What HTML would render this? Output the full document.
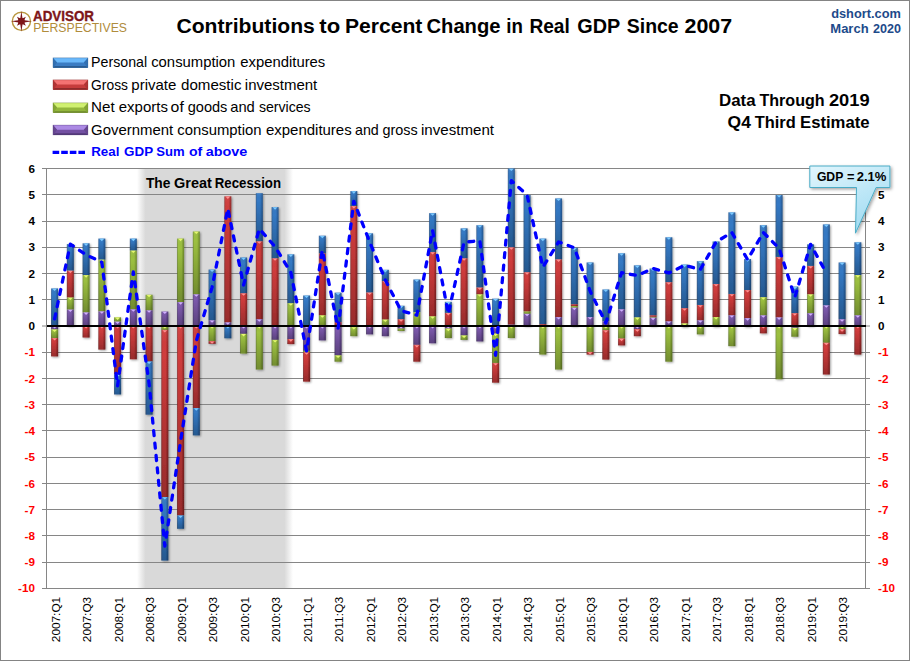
<!DOCTYPE html>
<html><head><meta charset="utf-8"><title>Contributions to Percent Change in Real GDP Since 2007</title>
<style>html,body{margin:0;padding:0;background:#fff;}body{width:910px;height:661px;overflow:hidden;font-family:"Liberation Sans",sans-serif;}svg{display:block;}</style></head><body>
<svg width="910" height="661" viewBox="0 0 910 661" font-family="Liberation Sans, sans-serif">
<defs>
<linearGradient id="gB" x1="0" x2="1" y1="0" y2="0"><stop offset="0" stop-color="#22528a" stop-opacity="0.85"/><stop offset="0.2" stop-color="#3479c4"/><stop offset="0.62" stop-color="#3479c4"/><stop offset="1" stop-color="#22528a"/></linearGradient>
<linearGradient id="lB" x1="0" x2="0" y1="0" y2="1"><stop offset="0" stop-color="#3479c4"/><stop offset="0.35" stop-color="#7ccbff"/><stop offset="0.5" stop-color="#3479c4"/><stop offset="1" stop-color="#22528a"/></linearGradient>
<linearGradient id="gR" x1="0" x2="1" y1="0" y2="0"><stop offset="0" stop-color="#8a2424" stop-opacity="0.85"/><stop offset="0.2" stop-color="#d03c3c"/><stop offset="0.62" stop-color="#d03c3c"/><stop offset="1" stop-color="#8a2424"/></linearGradient>
<linearGradient id="lR" x1="0" x2="0" y1="0" y2="1"><stop offset="0" stop-color="#d03c3c"/><stop offset="0.35" stop-color="#ff9090"/><stop offset="0.5" stop-color="#d03c3c"/><stop offset="1" stop-color="#8a2424"/></linearGradient>
<linearGradient id="gG" x1="0" x2="1" y1="0" y2="0"><stop offset="0" stop-color="#6a862a" stop-opacity="0.85"/><stop offset="0.2" stop-color="#9cc040"/><stop offset="0.62" stop-color="#9cc040"/><stop offset="1" stop-color="#6a862a"/></linearGradient>
<linearGradient id="lG" x1="0" x2="0" y1="0" y2="1"><stop offset="0" stop-color="#9cc040"/><stop offset="0.35" stop-color="#e6f870"/><stop offset="0.5" stop-color="#9cc040"/><stop offset="1" stop-color="#6a862a"/></linearGradient>
<linearGradient id="gP" x1="0" x2="1" y1="0" y2="0"><stop offset="0" stop-color="#4f3874" stop-opacity="0.85"/><stop offset="0.2" stop-color="#7c59ac"/><stop offset="0.62" stop-color="#7c59ac"/><stop offset="1" stop-color="#4f3874"/></linearGradient>
<linearGradient id="lP" x1="0" x2="0" y1="0" y2="1"><stop offset="0" stop-color="#7c59ac"/><stop offset="0.35" stop-color="#d0b0ff"/><stop offset="0.5" stop-color="#7c59ac"/><stop offset="1" stop-color="#4f3874"/></linearGradient>
<linearGradient id="vs" x1="0" x2="0" y1="0" y2="1"><stop offset="0" stop-color="#fff" stop-opacity="0.06"/><stop offset="0.15" stop-color="#000" stop-opacity="0"/><stop offset="1" stop-color="#000" stop-opacity="0.27"/></linearGradient>
<linearGradient id="rec" x1="0" x2="1" y1="0" y2="0"><stop offset="0" stop-color="#d9d9d9" stop-opacity="0"/><stop offset="0.055" stop-color="#d9d9d9" stop-opacity="1"/><stop offset="0.945" stop-color="#d9d9d9" stop-opacity="1"/><stop offset="1" stop-color="#d9d9d9" stop-opacity="0"/></linearGradient>
<linearGradient id="co" x1="0" x2="0.6" y1="0" y2="1"><stop offset="0" stop-color="#e2f6fd"/><stop offset="1" stop-color="#a2dcf2"/></linearGradient>
<filter id="sh" x="-5%" y="-5%" width="110%" height="110%"><feDropShadow dx="1" dy="1" stdDeviation="0.9" flood-color="#000" flood-opacity="0.38"/></filter>
<filter id="sh2" x="-20%" y="-20%" width="140%" height="140%"><feDropShadow dx="1.5" dy="1.5" stdDeviation="1.5" flood-color="#000" flood-opacity="0.35"/></filter>
</defs>
<rect x="0" y="0" width="910" height="661" fill="#fff"/>
<rect x="0.5" y="0.5" width="909" height="660" fill="none" stroke="#848484" stroke-width="1"/>
<rect x="137" y="168" width="156" height="421" fill="url(#rec)"/>
<line x1="42" x2="870" y1="168.50" y2="168.50" stroke="#868686" stroke-width="1"/>
<line x1="42" x2="870" y1="194.50" y2="194.50" stroke="#868686" stroke-width="1"/>
<line x1="42" x2="870" y1="221.50" y2="221.50" stroke="#868686" stroke-width="1"/>
<line x1="42" x2="870" y1="247.50" y2="247.50" stroke="#868686" stroke-width="1"/>
<line x1="42" x2="870" y1="273.50" y2="273.50" stroke="#868686" stroke-width="1"/>
<line x1="42" x2="870" y1="299.50" y2="299.50" stroke="#868686" stroke-width="1"/>
<line x1="42" x2="870" y1="326.00" y2="326.00" stroke="#868686" stroke-width="1"/>
<line x1="42" x2="870" y1="352.50" y2="352.50" stroke="#868686" stroke-width="1"/>
<line x1="42" x2="870" y1="378.50" y2="378.50" stroke="#868686" stroke-width="1"/>
<line x1="42" x2="870" y1="404.50" y2="404.50" stroke="#868686" stroke-width="1"/>
<line x1="42" x2="870" y1="430.50" y2="430.50" stroke="#868686" stroke-width="1"/>
<line x1="42" x2="870" y1="457.50" y2="457.50" stroke="#868686" stroke-width="1"/>
<line x1="42" x2="870" y1="483.50" y2="483.50" stroke="#868686" stroke-width="1"/>
<line x1="42" x2="870" y1="509.50" y2="509.50" stroke="#868686" stroke-width="1"/>
<line x1="42" x2="870" y1="535.50" y2="535.50" stroke="#868686" stroke-width="1"/>
<line x1="42" x2="870" y1="562.50" y2="562.50" stroke="#868686" stroke-width="1"/>
<line x1="42" x2="870" y1="588.50" y2="588.50" stroke="#868686" stroke-width="1"/>
<line x1="46.5" x2="46.5" y1="168" y2="589" stroke="#868686" stroke-width="1"/>
<line x1="865.5" x2="865.5" y1="168" y2="589" stroke="#868686" stroke-width="1"/>
<g filter="url(#sh)">
<rect x="51.08" y="288.42" width="7.0" height="37.52" fill="url(#gB)"/>
<rect x="51.08" y="288.42" width="7.0" height="37.52" fill="url(#vs)"/>
<rect x="51.08" y="325.94" width="7.0" height="3.41" fill="url(#gP)"/>
<rect x="51.08" y="325.94" width="7.0" height="3.41" fill="url(#vs)"/>
<rect x="51.08" y="329.35" width="7.0" height="8.66" fill="url(#gG)"/>
<rect x="51.08" y="329.35" width="7.0" height="8.66" fill="url(#vs)"/>
<rect x="51.08" y="338.01" width="7.0" height="18.37" fill="url(#gR)"/>
<rect x="51.08" y="338.01" width="7.0" height="18.37" fill="url(#vs)"/>
<rect x="66.83" y="309.41" width="7.0" height="16.53" fill="url(#gP)"/>
<rect x="66.83" y="309.41" width="7.0" height="16.53" fill="url(#vs)"/>
<rect x="66.83" y="297.34" width="7.0" height="12.07" fill="url(#gG)"/>
<rect x="66.83" y="297.34" width="7.0" height="12.07" fill="url(#vs)"/>
<rect x="66.83" y="270.57" width="7.0" height="26.76" fill="url(#gR)"/>
<rect x="66.83" y="270.57" width="7.0" height="26.76" fill="url(#vs)"/>
<rect x="66.83" y="244.07" width="7.0" height="26.50" fill="url(#gB)"/>
<rect x="66.83" y="244.07" width="7.0" height="26.50" fill="url(#vs)"/>
<rect x="82.58" y="312.30" width="7.0" height="13.64" fill="url(#gP)"/>
<rect x="82.58" y="312.30" width="7.0" height="13.64" fill="url(#vs)"/>
<rect x="82.58" y="275.03" width="7.0" height="37.26" fill="url(#gG)"/>
<rect x="82.58" y="275.03" width="7.0" height="37.26" fill="url(#vs)"/>
<rect x="82.58" y="243.28" width="7.0" height="31.75" fill="url(#gB)"/>
<rect x="82.58" y="243.28" width="7.0" height="31.75" fill="url(#vs)"/>
<rect x="82.58" y="325.94" width="7.0" height="11.55" fill="url(#gR)"/>
<rect x="82.58" y="325.94" width="7.0" height="11.55" fill="url(#vs)"/>
<rect x="98.33" y="311.25" width="7.0" height="14.69" fill="url(#gP)"/>
<rect x="98.33" y="311.25" width="7.0" height="14.69" fill="url(#vs)"/>
<rect x="98.33" y="259.55" width="7.0" height="51.69" fill="url(#gG)"/>
<rect x="98.33" y="259.55" width="7.0" height="51.69" fill="url(#vs)"/>
<rect x="98.33" y="238.56" width="7.0" height="20.99" fill="url(#gB)"/>
<rect x="98.33" y="238.56" width="7.0" height="20.99" fill="url(#vs)"/>
<rect x="98.33" y="325.94" width="7.0" height="23.62" fill="url(#gR)"/>
<rect x="98.33" y="325.94" width="7.0" height="23.62" fill="url(#vs)"/>
<rect x="114.08" y="321.48" width="7.0" height="4.46" fill="url(#gP)"/>
<rect x="114.08" y="321.48" width="7.0" height="4.46" fill="url(#vs)"/>
<rect x="114.08" y="317.28" width="7.0" height="4.20" fill="url(#gG)"/>
<rect x="114.08" y="317.28" width="7.0" height="4.20" fill="url(#vs)"/>
<rect x="114.08" y="325.94" width="7.0" height="48.54" fill="url(#gR)"/>
<rect x="114.08" y="325.94" width="7.0" height="48.54" fill="url(#vs)"/>
<rect x="114.08" y="374.48" width="7.0" height="19.94" fill="url(#gB)"/>
<rect x="114.08" y="374.48" width="7.0" height="19.94" fill="url(#vs)"/>
<rect x="129.82" y="309.15" width="7.0" height="16.79" fill="url(#gP)"/>
<rect x="129.82" y="309.15" width="7.0" height="16.79" fill="url(#vs)"/>
<rect x="129.82" y="250.37" width="7.0" height="58.78" fill="url(#gG)"/>
<rect x="129.82" y="250.37" width="7.0" height="58.78" fill="url(#vs)"/>
<rect x="129.82" y="238.56" width="7.0" height="11.81" fill="url(#gB)"/>
<rect x="129.82" y="238.56" width="7.0" height="11.81" fill="url(#vs)"/>
<rect x="129.82" y="325.94" width="7.0" height="33.32" fill="url(#gR)"/>
<rect x="129.82" y="325.94" width="7.0" height="33.32" fill="url(#vs)"/>
<rect x="145.57" y="310.20" width="7.0" height="15.74" fill="url(#gP)"/>
<rect x="145.57" y="310.20" width="7.0" height="15.74" fill="url(#vs)"/>
<rect x="145.57" y="294.71" width="7.0" height="15.48" fill="url(#gG)"/>
<rect x="145.57" y="294.71" width="7.0" height="15.48" fill="url(#vs)"/>
<rect x="145.57" y="325.94" width="7.0" height="35.42" fill="url(#gR)"/>
<rect x="145.57" y="325.94" width="7.0" height="35.42" fill="url(#vs)"/>
<rect x="145.57" y="361.36" width="7.0" height="53.27" fill="url(#gB)"/>
<rect x="145.57" y="361.36" width="7.0" height="53.27" fill="url(#vs)"/>
<rect x="161.32" y="311.51" width="7.0" height="14.43" fill="url(#gP)"/>
<rect x="161.32" y="311.51" width="7.0" height="14.43" fill="url(#vs)"/>
<rect x="161.32" y="325.94" width="7.0" height="3.94" fill="url(#gG)"/>
<rect x="161.32" y="325.94" width="7.0" height="3.94" fill="url(#vs)"/>
<rect x="161.32" y="329.88" width="7.0" height="167.15" fill="url(#gR)"/>
<rect x="161.32" y="329.88" width="7.0" height="167.15" fill="url(#vs)"/>
<rect x="161.32" y="497.02" width="7.0" height="63.50" fill="url(#gB)"/>
<rect x="161.32" y="497.02" width="7.0" height="63.50" fill="url(#vs)"/>
<rect x="177.07" y="302.06" width="7.0" height="23.88" fill="url(#gP)"/>
<rect x="177.07" y="302.06" width="7.0" height="23.88" fill="url(#vs)"/>
<rect x="177.07" y="238.56" width="7.0" height="63.50" fill="url(#gG)"/>
<rect x="177.07" y="238.56" width="7.0" height="63.50" fill="url(#vs)"/>
<rect x="177.07" y="325.94" width="7.0" height="189.45" fill="url(#gR)"/>
<rect x="177.07" y="325.94" width="7.0" height="189.45" fill="url(#vs)"/>
<rect x="177.07" y="515.39" width="7.0" height="13.38" fill="url(#gB)"/>
<rect x="177.07" y="515.39" width="7.0" height="13.38" fill="url(#vs)"/>
<rect x="192.82" y="294.19" width="7.0" height="31.75" fill="url(#gP)"/>
<rect x="192.82" y="294.19" width="7.0" height="31.75" fill="url(#vs)"/>
<rect x="192.82" y="231.48" width="7.0" height="62.71" fill="url(#gG)"/>
<rect x="192.82" y="231.48" width="7.0" height="62.71" fill="url(#vs)"/>
<rect x="192.82" y="325.94" width="7.0" height="82.13" fill="url(#gR)"/>
<rect x="192.82" y="325.94" width="7.0" height="82.13" fill="url(#vs)"/>
<rect x="192.82" y="408.07" width="7.0" height="27.29" fill="url(#gB)"/>
<rect x="192.82" y="408.07" width="7.0" height="27.29" fill="url(#vs)"/>
<rect x="208.57" y="320.17" width="7.0" height="5.77" fill="url(#gP)"/>
<rect x="208.57" y="320.17" width="7.0" height="5.77" fill="url(#vs)"/>
<rect x="208.57" y="269.52" width="7.0" height="50.64" fill="url(#gB)"/>
<rect x="208.57" y="269.52" width="7.0" height="50.64" fill="url(#vs)"/>
<rect x="208.57" y="325.94" width="7.0" height="15.22" fill="url(#gG)"/>
<rect x="208.57" y="325.94" width="7.0" height="15.22" fill="url(#vs)"/>
<rect x="208.57" y="341.16" width="7.0" height="2.62" fill="url(#gR)"/>
<rect x="208.57" y="341.16" width="7.0" height="2.62" fill="url(#vs)"/>
<rect x="224.32" y="322.27" width="7.0" height="3.67" fill="url(#gP)"/>
<rect x="224.32" y="322.27" width="7.0" height="3.67" fill="url(#vs)"/>
<rect x="224.32" y="196.31" width="7.0" height="125.95" fill="url(#gR)"/>
<rect x="224.32" y="196.31" width="7.0" height="125.95" fill="url(#vs)"/>
<rect x="224.32" y="325.94" width="7.0" height="12.33" fill="url(#gB)"/>
<rect x="224.32" y="325.94" width="7.0" height="12.33" fill="url(#vs)"/>
<rect x="240.07" y="293.14" width="7.0" height="32.80" fill="url(#gR)"/>
<rect x="240.07" y="293.14" width="7.0" height="32.80" fill="url(#vs)"/>
<rect x="240.07" y="257.45" width="7.0" height="35.69" fill="url(#gB)"/>
<rect x="240.07" y="257.45" width="7.0" height="35.69" fill="url(#vs)"/>
<rect x="240.07" y="325.94" width="7.0" height="7.87" fill="url(#gP)"/>
<rect x="240.07" y="325.94" width="7.0" height="7.87" fill="url(#vs)"/>
<rect x="240.07" y="333.81" width="7.0" height="19.68" fill="url(#gG)"/>
<rect x="240.07" y="333.81" width="7.0" height="19.68" fill="url(#vs)"/>
<rect x="255.82" y="319.12" width="7.0" height="6.82" fill="url(#gP)"/>
<rect x="255.82" y="319.12" width="7.0" height="6.82" fill="url(#vs)"/>
<rect x="255.82" y="241.18" width="7.0" height="77.93" fill="url(#gR)"/>
<rect x="255.82" y="241.18" width="7.0" height="77.93" fill="url(#vs)"/>
<rect x="255.82" y="193.17" width="7.0" height="48.02" fill="url(#gB)"/>
<rect x="255.82" y="193.17" width="7.0" height="48.02" fill="url(#vs)"/>
<rect x="255.82" y="325.94" width="7.0" height="43.56" fill="url(#gG)"/>
<rect x="255.82" y="325.94" width="7.0" height="43.56" fill="url(#vs)"/>
<rect x="271.57" y="258.24" width="7.0" height="67.70" fill="url(#gR)"/>
<rect x="271.57" y="258.24" width="7.0" height="67.70" fill="url(#vs)"/>
<rect x="271.57" y="207.07" width="7.0" height="51.17" fill="url(#gB)"/>
<rect x="271.57" y="207.07" width="7.0" height="51.17" fill="url(#vs)"/>
<rect x="271.57" y="325.94" width="7.0" height="13.91" fill="url(#gP)"/>
<rect x="271.57" y="325.94" width="7.0" height="13.91" fill="url(#vs)"/>
<rect x="271.57" y="339.85" width="7.0" height="25.72" fill="url(#gG)"/>
<rect x="271.57" y="339.85" width="7.0" height="25.72" fill="url(#vs)"/>
<rect x="287.32" y="303.11" width="7.0" height="22.83" fill="url(#gG)"/>
<rect x="287.32" y="303.11" width="7.0" height="22.83" fill="url(#vs)"/>
<rect x="287.32" y="254.30" width="7.0" height="48.81" fill="url(#gB)"/>
<rect x="287.32" y="254.30" width="7.0" height="48.81" fill="url(#vs)"/>
<rect x="287.32" y="325.94" width="7.0" height="13.12" fill="url(#gP)"/>
<rect x="287.32" y="325.94" width="7.0" height="13.12" fill="url(#vs)"/>
<rect x="287.32" y="339.06" width="7.0" height="4.99" fill="url(#gR)"/>
<rect x="287.32" y="339.06" width="7.0" height="4.99" fill="url(#vs)"/>
<rect x="303.07" y="295.50" width="7.0" height="30.44" fill="url(#gB)"/>
<rect x="303.07" y="295.50" width="7.0" height="30.44" fill="url(#vs)"/>
<rect x="303.07" y="325.94" width="7.0" height="24.93" fill="url(#gP)"/>
<rect x="303.07" y="325.94" width="7.0" height="24.93" fill="url(#vs)"/>
<rect x="303.07" y="350.87" width="7.0" height="1.31" fill="url(#gG)"/>
<rect x="303.07" y="350.87" width="7.0" height="1.31" fill="url(#vs)"/>
<rect x="303.07" y="352.18" width="7.0" height="29.39" fill="url(#gR)"/>
<rect x="303.07" y="352.18" width="7.0" height="29.39" fill="url(#vs)"/>
<rect x="318.82" y="315.18" width="7.0" height="10.76" fill="url(#gG)"/>
<rect x="318.82" y="315.18" width="7.0" height="10.76" fill="url(#vs)"/>
<rect x="318.82" y="253.26" width="7.0" height="61.93" fill="url(#gR)"/>
<rect x="318.82" y="253.26" width="7.0" height="61.93" fill="url(#vs)"/>
<rect x="318.82" y="235.67" width="7.0" height="17.58" fill="url(#gB)"/>
<rect x="318.82" y="235.67" width="7.0" height="17.58" fill="url(#vs)"/>
<rect x="318.82" y="325.94" width="7.0" height="14.43" fill="url(#gP)"/>
<rect x="318.82" y="325.94" width="7.0" height="14.43" fill="url(#vs)"/>
<rect x="334.57" y="322.00" width="7.0" height="3.94" fill="url(#gR)"/>
<rect x="334.57" y="322.00" width="7.0" height="3.94" fill="url(#vs)"/>
<rect x="334.57" y="292.62" width="7.0" height="29.39" fill="url(#gB)"/>
<rect x="334.57" y="292.62" width="7.0" height="29.39" fill="url(#vs)"/>
<rect x="334.57" y="325.94" width="7.0" height="29.39" fill="url(#gP)"/>
<rect x="334.57" y="325.94" width="7.0" height="29.39" fill="url(#vs)"/>
<rect x="334.57" y="355.33" width="7.0" height="6.30" fill="url(#gG)"/>
<rect x="334.57" y="355.33" width="7.0" height="6.30" fill="url(#vs)"/>
<rect x="350.32" y="206.02" width="7.0" height="119.92" fill="url(#gR)"/>
<rect x="350.32" y="206.02" width="7.0" height="119.92" fill="url(#vs)"/>
<rect x="350.32" y="191.07" width="7.0" height="14.96" fill="url(#gB)"/>
<rect x="350.32" y="191.07" width="7.0" height="14.96" fill="url(#vs)"/>
<rect x="350.32" y="325.94" width="7.0" height="1.05" fill="url(#gP)"/>
<rect x="350.32" y="325.94" width="7.0" height="1.05" fill="url(#vs)"/>
<rect x="350.32" y="326.99" width="7.0" height="9.18" fill="url(#gG)"/>
<rect x="350.32" y="326.99" width="7.0" height="9.18" fill="url(#vs)"/>
<rect x="366.07" y="292.35" width="7.0" height="33.59" fill="url(#gR)"/>
<rect x="366.07" y="292.35" width="7.0" height="33.59" fill="url(#vs)"/>
<rect x="366.07" y="233.31" width="7.0" height="59.04" fill="url(#gB)"/>
<rect x="366.07" y="233.31" width="7.0" height="59.04" fill="url(#vs)"/>
<rect x="366.07" y="325.94" width="7.0" height="8.40" fill="url(#gP)"/>
<rect x="366.07" y="325.94" width="7.0" height="8.40" fill="url(#vs)"/>
<rect x="381.82" y="319.38" width="7.0" height="6.56" fill="url(#gG)"/>
<rect x="381.82" y="319.38" width="7.0" height="6.56" fill="url(#vs)"/>
<rect x="381.82" y="281.07" width="7.0" height="38.31" fill="url(#gR)"/>
<rect x="381.82" y="281.07" width="7.0" height="38.31" fill="url(#vs)"/>
<rect x="381.82" y="269.79" width="7.0" height="11.28" fill="url(#gB)"/>
<rect x="381.82" y="269.79" width="7.0" height="11.28" fill="url(#vs)"/>
<rect x="381.82" y="325.94" width="7.0" height="10.23" fill="url(#gP)"/>
<rect x="381.82" y="325.94" width="7.0" height="10.23" fill="url(#vs)"/>
<rect x="397.57" y="319.12" width="7.0" height="6.82" fill="url(#gR)"/>
<rect x="397.57" y="319.12" width="7.0" height="6.82" fill="url(#vs)"/>
<rect x="397.57" y="305.74" width="7.0" height="13.38" fill="url(#gB)"/>
<rect x="397.57" y="305.74" width="7.0" height="13.38" fill="url(#vs)"/>
<rect x="397.57" y="325.94" width="7.0" height="2.62" fill="url(#gP)"/>
<rect x="397.57" y="325.94" width="7.0" height="2.62" fill="url(#vs)"/>
<rect x="397.57" y="328.56" width="7.0" height="2.36" fill="url(#gG)"/>
<rect x="397.57" y="328.56" width="7.0" height="2.36" fill="url(#vs)"/>
<rect x="413.32" y="312.03" width="7.0" height="13.91" fill="url(#gG)"/>
<rect x="413.32" y="312.03" width="7.0" height="13.91" fill="url(#vs)"/>
<rect x="413.32" y="279.50" width="7.0" height="32.54" fill="url(#gB)"/>
<rect x="413.32" y="279.50" width="7.0" height="32.54" fill="url(#vs)"/>
<rect x="413.32" y="325.94" width="7.0" height="18.89" fill="url(#gP)"/>
<rect x="413.32" y="325.94" width="7.0" height="18.89" fill="url(#vs)"/>
<rect x="413.32" y="344.83" width="7.0" height="16.79" fill="url(#gR)"/>
<rect x="413.32" y="344.83" width="7.0" height="16.79" fill="url(#vs)"/>
<rect x="429.07" y="316.23" width="7.0" height="9.71" fill="url(#gG)"/>
<rect x="429.07" y="316.23" width="7.0" height="9.71" fill="url(#vs)"/>
<rect x="429.07" y="251.94" width="7.0" height="64.29" fill="url(#gR)"/>
<rect x="429.07" y="251.94" width="7.0" height="64.29" fill="url(#vs)"/>
<rect x="429.07" y="213.11" width="7.0" height="38.84" fill="url(#gB)"/>
<rect x="429.07" y="213.11" width="7.0" height="38.84" fill="url(#vs)"/>
<rect x="429.07" y="325.94" width="7.0" height="17.32" fill="url(#gP)"/>
<rect x="429.07" y="325.94" width="7.0" height="17.32" fill="url(#vs)"/>
<rect x="444.82" y="312.82" width="7.0" height="13.12" fill="url(#gR)"/>
<rect x="444.82" y="312.82" width="7.0" height="13.12" fill="url(#vs)"/>
<rect x="444.82" y="301.80" width="7.0" height="11.02" fill="url(#gB)"/>
<rect x="444.82" y="301.80" width="7.0" height="11.02" fill="url(#vs)"/>
<rect x="444.82" y="325.94" width="7.0" height="2.62" fill="url(#gP)"/>
<rect x="444.82" y="325.94" width="7.0" height="2.62" fill="url(#vs)"/>
<rect x="444.82" y="328.56" width="7.0" height="9.45" fill="url(#gG)"/>
<rect x="444.82" y="328.56" width="7.0" height="9.45" fill="url(#vs)"/>
<rect x="460.57" y="258.24" width="7.0" height="67.70" fill="url(#gR)"/>
<rect x="460.57" y="258.24" width="7.0" height="67.70" fill="url(#vs)"/>
<rect x="460.57" y="228.33" width="7.0" height="29.91" fill="url(#gB)"/>
<rect x="460.57" y="228.33" width="7.0" height="29.91" fill="url(#vs)"/>
<rect x="460.57" y="325.94" width="7.0" height="9.45" fill="url(#gP)"/>
<rect x="460.57" y="325.94" width="7.0" height="9.45" fill="url(#vs)"/>
<rect x="460.57" y="335.39" width="7.0" height="4.46" fill="url(#gG)"/>
<rect x="460.57" y="335.39" width="7.0" height="4.46" fill="url(#vs)"/>
<rect x="476.32" y="294.19" width="7.0" height="31.75" fill="url(#gG)"/>
<rect x="476.32" y="294.19" width="7.0" height="31.75" fill="url(#vs)"/>
<rect x="476.32" y="287.37" width="7.0" height="6.82" fill="url(#gR)"/>
<rect x="476.32" y="287.37" width="7.0" height="6.82" fill="url(#vs)"/>
<rect x="476.32" y="225.18" width="7.0" height="62.19" fill="url(#gB)"/>
<rect x="476.32" y="225.18" width="7.0" height="62.19" fill="url(#vs)"/>
<rect x="476.32" y="325.94" width="7.0" height="15.48" fill="url(#gP)"/>
<rect x="476.32" y="325.94" width="7.0" height="15.48" fill="url(#vs)"/>
<rect x="492.07" y="298.65" width="7.0" height="27.29" fill="url(#gB)"/>
<rect x="492.07" y="298.65" width="7.0" height="27.29" fill="url(#vs)"/>
<rect x="492.07" y="325.94" width="7.0" height="7.61" fill="url(#gP)"/>
<rect x="492.07" y="325.94" width="7.0" height="7.61" fill="url(#vs)"/>
<rect x="492.07" y="333.55" width="7.0" height="29.39" fill="url(#gG)"/>
<rect x="492.07" y="333.55" width="7.0" height="29.39" fill="url(#vs)"/>
<rect x="492.07" y="362.94" width="7.0" height="19.68" fill="url(#gR)"/>
<rect x="492.07" y="362.94" width="7.0" height="19.68" fill="url(#vs)"/>
<rect x="507.82" y="324.37" width="7.0" height="1.57" fill="url(#gP)"/>
<rect x="507.82" y="324.37" width="7.0" height="1.57" fill="url(#vs)"/>
<rect x="507.82" y="247.22" width="7.0" height="77.15" fill="url(#gR)"/>
<rect x="507.82" y="247.22" width="7.0" height="77.15" fill="url(#vs)"/>
<rect x="507.82" y="168.50" width="7.0" height="78.72" fill="url(#gB)"/>
<rect x="507.82" y="168.50" width="7.0" height="78.72" fill="url(#vs)"/>
<rect x="507.82" y="325.94" width="7.0" height="12.07" fill="url(#gG)"/>
<rect x="507.82" y="325.94" width="7.0" height="12.07" fill="url(#vs)"/>
<rect x="523.58" y="313.61" width="7.0" height="12.33" fill="url(#gP)"/>
<rect x="523.58" y="313.61" width="7.0" height="12.33" fill="url(#vs)"/>
<rect x="523.58" y="311.25" width="7.0" height="2.36" fill="url(#gG)"/>
<rect x="523.58" y="311.25" width="7.0" height="2.36" fill="url(#vs)"/>
<rect x="523.58" y="272.15" width="7.0" height="39.10" fill="url(#gR)"/>
<rect x="523.58" y="272.15" width="7.0" height="39.10" fill="url(#vs)"/>
<rect x="523.58" y="195.00" width="7.0" height="77.15" fill="url(#gB)"/>
<rect x="523.58" y="195.00" width="7.0" height="77.15" fill="url(#vs)"/>
<rect x="539.33" y="324.10" width="7.0" height="1.84" fill="url(#gR)"/>
<rect x="539.33" y="324.10" width="7.0" height="1.84" fill="url(#vs)"/>
<rect x="539.33" y="238.56" width="7.0" height="85.54" fill="url(#gB)"/>
<rect x="539.33" y="238.56" width="7.0" height="85.54" fill="url(#vs)"/>
<rect x="539.33" y="325.94" width="7.0" height="28.60" fill="url(#gG)"/>
<rect x="539.33" y="325.94" width="7.0" height="28.60" fill="url(#vs)"/>
<rect x="555.08" y="317.02" width="7.0" height="8.92" fill="url(#gP)"/>
<rect x="555.08" y="317.02" width="7.0" height="8.92" fill="url(#vs)"/>
<rect x="555.08" y="259.29" width="7.0" height="57.73" fill="url(#gR)"/>
<rect x="555.08" y="259.29" width="7.0" height="57.73" fill="url(#vs)"/>
<rect x="555.08" y="198.41" width="7.0" height="60.88" fill="url(#gB)"/>
<rect x="555.08" y="198.41" width="7.0" height="60.88" fill="url(#vs)"/>
<rect x="555.08" y="325.94" width="7.0" height="43.56" fill="url(#gG)"/>
<rect x="555.08" y="325.94" width="7.0" height="43.56" fill="url(#vs)"/>
<rect x="570.83" y="307.57" width="7.0" height="18.37" fill="url(#gP)"/>
<rect x="570.83" y="307.57" width="7.0" height="18.37" fill="url(#vs)"/>
<rect x="570.83" y="306.00" width="7.0" height="1.57" fill="url(#gG)"/>
<rect x="570.83" y="306.00" width="7.0" height="1.57" fill="url(#vs)"/>
<rect x="570.83" y="304.16" width="7.0" height="1.84" fill="url(#gR)"/>
<rect x="570.83" y="304.16" width="7.0" height="1.84" fill="url(#vs)"/>
<rect x="570.83" y="247.74" width="7.0" height="56.42" fill="url(#gB)"/>
<rect x="570.83" y="247.74" width="7.0" height="56.42" fill="url(#vs)"/>
<rect x="586.58" y="317.02" width="7.0" height="8.92" fill="url(#gP)"/>
<rect x="586.58" y="317.02" width="7.0" height="8.92" fill="url(#vs)"/>
<rect x="586.58" y="262.44" width="7.0" height="54.58" fill="url(#gB)"/>
<rect x="586.58" y="262.44" width="7.0" height="54.58" fill="url(#vs)"/>
<rect x="586.58" y="325.94" width="7.0" height="25.98" fill="url(#gG)"/>
<rect x="586.58" y="325.94" width="7.0" height="25.98" fill="url(#vs)"/>
<rect x="586.58" y="351.92" width="7.0" height="2.62" fill="url(#gR)"/>
<rect x="586.58" y="351.92" width="7.0" height="2.62" fill="url(#vs)"/>
<rect x="602.33" y="321.22" width="7.0" height="4.72" fill="url(#gP)"/>
<rect x="602.33" y="321.22" width="7.0" height="4.72" fill="url(#vs)"/>
<rect x="602.33" y="289.47" width="7.0" height="31.75" fill="url(#gB)"/>
<rect x="602.33" y="289.47" width="7.0" height="31.75" fill="url(#vs)"/>
<rect x="602.33" y="325.94" width="7.0" height="4.20" fill="url(#gG)"/>
<rect x="602.33" y="325.94" width="7.0" height="4.20" fill="url(#vs)"/>
<rect x="602.33" y="330.14" width="7.0" height="29.39" fill="url(#gR)"/>
<rect x="602.33" y="330.14" width="7.0" height="29.39" fill="url(#vs)"/>
<rect x="618.08" y="309.15" width="7.0" height="16.79" fill="url(#gP)"/>
<rect x="618.08" y="309.15" width="7.0" height="16.79" fill="url(#vs)"/>
<rect x="618.08" y="253.26" width="7.0" height="55.89" fill="url(#gB)"/>
<rect x="618.08" y="253.26" width="7.0" height="55.89" fill="url(#vs)"/>
<rect x="618.08" y="325.94" width="7.0" height="12.60" fill="url(#gG)"/>
<rect x="618.08" y="325.94" width="7.0" height="12.60" fill="url(#vs)"/>
<rect x="618.08" y="338.54" width="7.0" height="6.82" fill="url(#gR)"/>
<rect x="618.08" y="338.54" width="7.0" height="6.82" fill="url(#vs)"/>
<rect x="633.83" y="317.28" width="7.0" height="8.66" fill="url(#gG)"/>
<rect x="633.83" y="317.28" width="7.0" height="8.66" fill="url(#vs)"/>
<rect x="633.83" y="265.33" width="7.0" height="51.96" fill="url(#gB)"/>
<rect x="633.83" y="265.33" width="7.0" height="51.96" fill="url(#vs)"/>
<rect x="633.83" y="325.94" width="7.0" height="3.15" fill="url(#gP)"/>
<rect x="633.83" y="325.94" width="7.0" height="3.15" fill="url(#vs)"/>
<rect x="633.83" y="329.09" width="7.0" height="7.08" fill="url(#gR)"/>
<rect x="633.83" y="329.09" width="7.0" height="7.08" fill="url(#vs)"/>
<rect x="649.58" y="317.54" width="7.0" height="8.40" fill="url(#gP)"/>
<rect x="649.58" y="317.54" width="7.0" height="8.40" fill="url(#vs)"/>
<rect x="649.58" y="316.76" width="7.0" height="0.79" fill="url(#gG)"/>
<rect x="649.58" y="316.76" width="7.0" height="0.79" fill="url(#vs)"/>
<rect x="649.58" y="315.18" width="7.0" height="1.57" fill="url(#gR)"/>
<rect x="649.58" y="315.18" width="7.0" height="1.57" fill="url(#vs)"/>
<rect x="649.58" y="268.47" width="7.0" height="46.71" fill="url(#gB)"/>
<rect x="649.58" y="268.47" width="7.0" height="46.71" fill="url(#vs)"/>
<rect x="665.33" y="321.22" width="7.0" height="4.72" fill="url(#gP)"/>
<rect x="665.33" y="321.22" width="7.0" height="4.72" fill="url(#vs)"/>
<rect x="665.33" y="282.12" width="7.0" height="39.10" fill="url(#gR)"/>
<rect x="665.33" y="282.12" width="7.0" height="39.10" fill="url(#vs)"/>
<rect x="665.33" y="237.25" width="7.0" height="44.87" fill="url(#gB)"/>
<rect x="665.33" y="237.25" width="7.0" height="44.87" fill="url(#vs)"/>
<rect x="665.33" y="325.94" width="7.0" height="35.69" fill="url(#gG)"/>
<rect x="665.33" y="325.94" width="7.0" height="35.69" fill="url(#vs)"/>
<rect x="681.08" y="323.32" width="7.0" height="2.62" fill="url(#gG)"/>
<rect x="681.08" y="323.32" width="7.0" height="2.62" fill="url(#vs)"/>
<rect x="681.08" y="308.10" width="7.0" height="15.22" fill="url(#gR)"/>
<rect x="681.08" y="308.10" width="7.0" height="15.22" fill="url(#vs)"/>
<rect x="681.08" y="264.54" width="7.0" height="43.56" fill="url(#gB)"/>
<rect x="681.08" y="264.54" width="7.0" height="43.56" fill="url(#vs)"/>
<rect x="681.08" y="325.94" width="7.0" height="0.79" fill="url(#gP)"/>
<rect x="681.08" y="325.94" width="7.0" height="0.79" fill="url(#vs)"/>
<rect x="696.83" y="320.17" width="7.0" height="5.77" fill="url(#gP)"/>
<rect x="696.83" y="320.17" width="7.0" height="5.77" fill="url(#vs)"/>
<rect x="696.83" y="304.95" width="7.0" height="15.22" fill="url(#gR)"/>
<rect x="696.83" y="304.95" width="7.0" height="15.22" fill="url(#vs)"/>
<rect x="696.83" y="261.13" width="7.0" height="43.82" fill="url(#gB)"/>
<rect x="696.83" y="261.13" width="7.0" height="43.82" fill="url(#vs)"/>
<rect x="696.83" y="325.94" width="7.0" height="8.40" fill="url(#gG)"/>
<rect x="696.83" y="325.94" width="7.0" height="8.40" fill="url(#vs)"/>
<rect x="712.58" y="317.02" width="7.0" height="8.92" fill="url(#gG)"/>
<rect x="712.58" y="317.02" width="7.0" height="8.92" fill="url(#vs)"/>
<rect x="712.58" y="283.96" width="7.0" height="33.06" fill="url(#gR)"/>
<rect x="712.58" y="283.96" width="7.0" height="33.06" fill="url(#vs)"/>
<rect x="712.58" y="241.45" width="7.0" height="42.51" fill="url(#gB)"/>
<rect x="712.58" y="241.45" width="7.0" height="42.51" fill="url(#vs)"/>
<rect x="712.58" y="325.94" width="7.0" height="0.52" fill="url(#gP)"/>
<rect x="712.58" y="325.94" width="7.0" height="0.52" fill="url(#vs)"/>
<rect x="728.33" y="315.18" width="7.0" height="10.76" fill="url(#gP)"/>
<rect x="728.33" y="315.18" width="7.0" height="10.76" fill="url(#vs)"/>
<rect x="728.33" y="293.93" width="7.0" height="21.25" fill="url(#gR)"/>
<rect x="728.33" y="293.93" width="7.0" height="21.25" fill="url(#vs)"/>
<rect x="728.33" y="212.32" width="7.0" height="81.61" fill="url(#gB)"/>
<rect x="728.33" y="212.32" width="7.0" height="81.61" fill="url(#vs)"/>
<rect x="728.33" y="325.94" width="7.0" height="20.20" fill="url(#gG)"/>
<rect x="728.33" y="325.94" width="7.0" height="20.20" fill="url(#vs)"/>
<rect x="744.08" y="318.07" width="7.0" height="7.87" fill="url(#gP)"/>
<rect x="744.08" y="318.07" width="7.0" height="7.87" fill="url(#vs)"/>
<rect x="744.08" y="289.99" width="7.0" height="28.08" fill="url(#gR)"/>
<rect x="744.08" y="289.99" width="7.0" height="28.08" fill="url(#vs)"/>
<rect x="744.08" y="259.03" width="7.0" height="30.96" fill="url(#gB)"/>
<rect x="744.08" y="259.03" width="7.0" height="30.96" fill="url(#vs)"/>
<rect x="744.08" y="325.94" width="7.0" height="0.52" fill="url(#gG)"/>
<rect x="744.08" y="325.94" width="7.0" height="0.52" fill="url(#vs)"/>
<rect x="759.83" y="315.18" width="7.0" height="10.76" fill="url(#gP)"/>
<rect x="759.83" y="315.18" width="7.0" height="10.76" fill="url(#vs)"/>
<rect x="759.83" y="297.08" width="7.0" height="18.11" fill="url(#gG)"/>
<rect x="759.83" y="297.08" width="7.0" height="18.11" fill="url(#vs)"/>
<rect x="759.83" y="225.18" width="7.0" height="71.90" fill="url(#gB)"/>
<rect x="759.83" y="225.18" width="7.0" height="71.90" fill="url(#vs)"/>
<rect x="759.83" y="325.94" width="7.0" height="7.35" fill="url(#gR)"/>
<rect x="759.83" y="325.94" width="7.0" height="7.35" fill="url(#vs)"/>
<rect x="775.58" y="317.28" width="7.0" height="8.66" fill="url(#gP)"/>
<rect x="775.58" y="317.28" width="7.0" height="8.66" fill="url(#vs)"/>
<rect x="775.58" y="256.93" width="7.0" height="60.35" fill="url(#gR)"/>
<rect x="775.58" y="256.93" width="7.0" height="60.35" fill="url(#vs)"/>
<rect x="775.58" y="195.00" width="7.0" height="61.93" fill="url(#gB)"/>
<rect x="775.58" y="195.00" width="7.0" height="61.93" fill="url(#vs)"/>
<rect x="775.58" y="325.94" width="7.0" height="53.27" fill="url(#gG)"/>
<rect x="775.58" y="325.94" width="7.0" height="53.27" fill="url(#vs)"/>
<rect x="791.33" y="313.08" width="7.0" height="12.86" fill="url(#gR)"/>
<rect x="791.33" y="313.08" width="7.0" height="12.86" fill="url(#vs)"/>
<rect x="791.33" y="286.58" width="7.0" height="26.50" fill="url(#gB)"/>
<rect x="791.33" y="286.58" width="7.0" height="26.50" fill="url(#vs)"/>
<rect x="791.33" y="325.94" width="7.0" height="1.84" fill="url(#gP)"/>
<rect x="791.33" y="325.94" width="7.0" height="1.84" fill="url(#vs)"/>
<rect x="791.33" y="327.78" width="7.0" height="8.92" fill="url(#gG)"/>
<rect x="791.33" y="327.78" width="7.0" height="8.92" fill="url(#vs)"/>
<rect x="807.08" y="313.08" width="7.0" height="12.86" fill="url(#gP)"/>
<rect x="807.08" y="313.08" width="7.0" height="12.86" fill="url(#vs)"/>
<rect x="807.08" y="294.19" width="7.0" height="18.89" fill="url(#gG)"/>
<rect x="807.08" y="294.19" width="7.0" height="18.89" fill="url(#vs)"/>
<rect x="807.08" y="265.85" width="7.0" height="28.34" fill="url(#gR)"/>
<rect x="807.08" y="265.85" width="7.0" height="28.34" fill="url(#vs)"/>
<rect x="807.08" y="244.33" width="7.0" height="21.52" fill="url(#gB)"/>
<rect x="807.08" y="244.33" width="7.0" height="21.52" fill="url(#vs)"/>
<rect x="822.83" y="305.21" width="7.0" height="20.73" fill="url(#gP)"/>
<rect x="822.83" y="305.21" width="7.0" height="20.73" fill="url(#vs)"/>
<rect x="822.83" y="224.39" width="7.0" height="80.82" fill="url(#gB)"/>
<rect x="822.83" y="224.39" width="7.0" height="80.82" fill="url(#vs)"/>
<rect x="822.83" y="325.94" width="7.0" height="16.79" fill="url(#gG)"/>
<rect x="822.83" y="325.94" width="7.0" height="16.79" fill="url(#vs)"/>
<rect x="822.83" y="342.73" width="7.0" height="31.75" fill="url(#gR)"/>
<rect x="822.83" y="342.73" width="7.0" height="31.75" fill="url(#vs)"/>
<rect x="838.58" y="319.12" width="7.0" height="6.82" fill="url(#gP)"/>
<rect x="838.58" y="319.12" width="7.0" height="6.82" fill="url(#vs)"/>
<rect x="838.58" y="262.44" width="7.0" height="56.68" fill="url(#gB)"/>
<rect x="838.58" y="262.44" width="7.0" height="56.68" fill="url(#vs)"/>
<rect x="838.58" y="325.94" width="7.0" height="3.15" fill="url(#gG)"/>
<rect x="838.58" y="325.94" width="7.0" height="3.15" fill="url(#vs)"/>
<rect x="838.58" y="329.09" width="7.0" height="4.99" fill="url(#gR)"/>
<rect x="838.58" y="329.09" width="7.0" height="4.99" fill="url(#vs)"/>
<rect x="854.33" y="315.18" width="7.0" height="10.76" fill="url(#gP)"/>
<rect x="854.33" y="315.18" width="7.0" height="10.76" fill="url(#vs)"/>
<rect x="854.33" y="275.03" width="7.0" height="40.15" fill="url(#gG)"/>
<rect x="854.33" y="275.03" width="7.0" height="40.15" fill="url(#vs)"/>
<rect x="854.33" y="242.23" width="7.0" height="32.80" fill="url(#gB)"/>
<rect x="854.33" y="242.23" width="7.0" height="32.80" fill="url(#vs)"/>
<rect x="854.33" y="325.94" width="7.0" height="28.60" fill="url(#gR)"/>
<rect x="854.33" y="325.94" width="7.0" height="28.60" fill="url(#vs)"/>
</g>
<path d="M52.18 288.72H56.98L54.58 291.02Z" fill="#7ccbff"/>
<path d="M52.18 326.24H56.98L54.58 328.54Z" fill="#d0b0ff"/>
<path d="M52.18 329.65H56.98L54.58 331.95Z" fill="#e6f870"/>
<path d="M52.18 338.31H56.98L54.58 340.61Z" fill="#ff9090"/>
<path d="M67.92 309.71H72.73L70.33 312.01Z" fill="#d0b0ff"/>
<path d="M67.92 297.64H72.73L70.33 299.94Z" fill="#e6f870"/>
<path d="M67.92 270.87H72.73L70.33 273.17Z" fill="#ff9090"/>
<path d="M67.92 244.37H72.73L70.33 246.67Z" fill="#7ccbff"/>
<path d="M83.67 312.60H88.48L86.08 314.90Z" fill="#d0b0ff"/>
<path d="M83.67 275.33H88.48L86.08 277.63Z" fill="#e6f870"/>
<path d="M83.67 243.58H88.48L86.08 245.88Z" fill="#7ccbff"/>
<path d="M83.67 326.24H88.48L86.08 328.54Z" fill="#ff9090"/>
<path d="M99.42 311.55H104.23L101.83 313.85Z" fill="#d0b0ff"/>
<path d="M99.42 259.85H104.23L101.83 262.15Z" fill="#e6f870"/>
<path d="M99.42 238.86H104.23L101.83 241.16Z" fill="#7ccbff"/>
<path d="M99.42 326.24H104.23L101.83 328.54Z" fill="#ff9090"/>
<path d="M115.17 321.78H119.98L117.58 324.08Z" fill="#d0b0ff"/>
<path d="M115.17 317.58H119.98L117.58 319.88Z" fill="#e6f870"/>
<path d="M115.17 326.24H119.98L117.58 328.54Z" fill="#ff9090"/>
<path d="M115.17 374.78H119.98L117.58 377.08Z" fill="#7ccbff"/>
<path d="M130.92 309.45H135.72L133.32 311.75Z" fill="#d0b0ff"/>
<path d="M130.92 250.67H135.72L133.32 252.97Z" fill="#e6f870"/>
<path d="M130.92 238.86H135.72L133.32 241.16Z" fill="#7ccbff"/>
<path d="M130.92 326.24H135.72L133.32 328.54Z" fill="#ff9090"/>
<path d="M146.67 310.50H151.47L149.07 312.80Z" fill="#d0b0ff"/>
<path d="M146.67 295.01H151.47L149.07 297.31Z" fill="#e6f870"/>
<path d="M146.67 326.24H151.47L149.07 328.54Z" fill="#ff9090"/>
<path d="M146.67 361.66H151.47L149.07 363.96Z" fill="#7ccbff"/>
<path d="M162.42 311.81H167.22L164.82 314.11Z" fill="#d0b0ff"/>
<path d="M162.42 326.24H167.22L164.82 328.54Z" fill="#e6f870"/>
<path d="M162.42 330.18H167.22L164.82 332.48Z" fill="#ff9090"/>
<path d="M162.42 497.32H167.22L164.82 499.62Z" fill="#7ccbff"/>
<path d="M178.17 302.36H182.97L180.57 304.66Z" fill="#d0b0ff"/>
<path d="M178.17 238.86H182.97L180.57 241.16Z" fill="#e6f870"/>
<path d="M178.17 326.24H182.97L180.57 328.54Z" fill="#ff9090"/>
<path d="M178.17 515.69H182.97L180.57 517.99Z" fill="#7ccbff"/>
<path d="M193.92 294.49H198.72L196.32 296.79Z" fill="#d0b0ff"/>
<path d="M193.92 231.78H198.72L196.32 234.08Z" fill="#e6f870"/>
<path d="M193.92 326.24H198.72L196.32 328.54Z" fill="#ff9090"/>
<path d="M193.92 408.37H198.72L196.32 410.67Z" fill="#7ccbff"/>
<path d="M209.67 320.47H214.47L212.07 322.77Z" fill="#d0b0ff"/>
<path d="M209.67 269.82H214.47L212.07 272.12Z" fill="#7ccbff"/>
<path d="M209.67 326.24H214.47L212.07 328.54Z" fill="#e6f870"/>
<path d="M209.67 341.46H214.47L212.07 343.76Z" fill="#ff9090"/>
<path d="M225.42 322.57H230.22L227.82 324.87Z" fill="#d0b0ff"/>
<path d="M225.42 196.61H230.22L227.82 198.91Z" fill="#ff9090"/>
<path d="M225.42 326.24H230.22L227.82 328.54Z" fill="#7ccbff"/>
<path d="M241.17 293.44H245.97L243.57 295.74Z" fill="#ff9090"/>
<path d="M241.17 257.75H245.97L243.57 260.05Z" fill="#7ccbff"/>
<path d="M241.17 326.24H245.97L243.57 328.54Z" fill="#d0b0ff"/>
<path d="M241.17 334.11H245.97L243.57 336.41Z" fill="#e6f870"/>
<path d="M256.93 319.42H261.72L259.32 321.72Z" fill="#d0b0ff"/>
<path d="M256.93 241.48H261.72L259.32 243.78Z" fill="#ff9090"/>
<path d="M256.93 326.24H261.72L259.32 328.54Z" fill="#e6f870"/>
<path d="M272.68 258.54H277.47L275.07 260.84Z" fill="#ff9090"/>
<path d="M272.68 207.37H277.47L275.07 209.67Z" fill="#7ccbff"/>
<path d="M272.68 326.24H277.47L275.07 328.54Z" fill="#d0b0ff"/>
<path d="M272.68 340.15H277.47L275.07 342.45Z" fill="#e6f870"/>
<path d="M288.43 303.41H293.22L290.82 305.71Z" fill="#e6f870"/>
<path d="M288.43 254.60H293.22L290.82 256.90Z" fill="#7ccbff"/>
<path d="M288.43 326.24H293.22L290.82 328.54Z" fill="#d0b0ff"/>
<path d="M288.43 339.36H293.22L290.82 341.66Z" fill="#ff9090"/>
<path d="M304.18 295.80H308.97L306.57 298.10Z" fill="#7ccbff"/>
<path d="M304.18 326.24H308.97L306.57 328.54Z" fill="#d0b0ff"/>
<path d="M304.18 352.48H308.97L306.57 354.78Z" fill="#ff9090"/>
<path d="M319.93 315.48H324.72L322.32 317.78Z" fill="#e6f870"/>
<path d="M319.93 253.56H324.72L322.32 255.86Z" fill="#ff9090"/>
<path d="M319.93 235.97H324.72L322.32 238.27Z" fill="#7ccbff"/>
<path d="M319.93 326.24H324.72L322.32 328.54Z" fill="#d0b0ff"/>
<path d="M335.68 322.30H340.47L338.07 324.60Z" fill="#ff9090"/>
<path d="M335.68 292.92H340.47L338.07 295.22Z" fill="#7ccbff"/>
<path d="M335.68 326.24H340.47L338.07 328.54Z" fill="#d0b0ff"/>
<path d="M335.68 355.63H340.47L338.07 357.93Z" fill="#e6f870"/>
<path d="M351.43 206.32H356.22L353.82 208.62Z" fill="#ff9090"/>
<path d="M351.43 191.37H356.22L353.82 193.67Z" fill="#7ccbff"/>
<path d="M351.43 327.29H356.22L353.82 329.59Z" fill="#e6f870"/>
<path d="M367.18 292.65H371.97L369.57 294.95Z" fill="#ff9090"/>
<path d="M367.18 233.61H371.97L369.57 235.91Z" fill="#7ccbff"/>
<path d="M367.18 326.24H371.97L369.57 328.54Z" fill="#d0b0ff"/>
<path d="M382.93 319.68H387.72L385.32 321.98Z" fill="#e6f870"/>
<path d="M382.93 281.37H387.72L385.32 283.67Z" fill="#ff9090"/>
<path d="M382.93 270.09H387.72L385.32 272.39Z" fill="#7ccbff"/>
<path d="M382.93 326.24H387.72L385.32 328.54Z" fill="#d0b0ff"/>
<path d="M398.68 319.42H403.47L401.07 321.72Z" fill="#ff9090"/>
<path d="M398.68 306.04H403.47L401.07 308.34Z" fill="#7ccbff"/>
<path d="M398.68 326.24H403.47L401.07 328.54Z" fill="#d0b0ff"/>
<path d="M414.43 312.33H419.22L416.82 314.63Z" fill="#e6f870"/>
<path d="M414.43 279.80H419.22L416.82 282.10Z" fill="#7ccbff"/>
<path d="M414.43 326.24H419.22L416.82 328.54Z" fill="#d0b0ff"/>
<path d="M414.43 345.13H419.22L416.82 347.43Z" fill="#ff9090"/>
<path d="M430.18 316.53H434.97L432.57 318.83Z" fill="#e6f870"/>
<path d="M430.18 252.24H434.97L432.57 254.54Z" fill="#ff9090"/>
<path d="M430.18 213.41H434.97L432.57 215.71Z" fill="#7ccbff"/>
<path d="M430.18 326.24H434.97L432.57 328.54Z" fill="#d0b0ff"/>
<path d="M445.93 313.12H450.72L448.32 315.42Z" fill="#ff9090"/>
<path d="M445.93 302.10H450.72L448.32 304.40Z" fill="#7ccbff"/>
<path d="M445.93 326.24H450.72L448.32 328.54Z" fill="#d0b0ff"/>
<path d="M445.93 328.86H450.72L448.32 331.16Z" fill="#e6f870"/>
<path d="M461.68 258.54H466.47L464.07 260.84Z" fill="#ff9090"/>
<path d="M461.68 228.63H466.47L464.07 230.93Z" fill="#7ccbff"/>
<path d="M461.68 326.24H466.47L464.07 328.54Z" fill="#d0b0ff"/>
<path d="M461.68 335.69H466.47L464.07 337.99Z" fill="#e6f870"/>
<path d="M477.43 294.49H482.22L479.82 296.79Z" fill="#e6f870"/>
<path d="M477.43 287.67H482.22L479.82 289.97Z" fill="#ff9090"/>
<path d="M477.43 225.48H482.22L479.82 227.78Z" fill="#7ccbff"/>
<path d="M477.43 326.24H482.22L479.82 328.54Z" fill="#d0b0ff"/>
<path d="M493.18 298.95H497.97L495.57 301.25Z" fill="#7ccbff"/>
<path d="M493.18 326.24H497.97L495.57 328.54Z" fill="#d0b0ff"/>
<path d="M493.18 333.85H497.97L495.57 336.15Z" fill="#e6f870"/>
<path d="M493.18 363.24H497.97L495.57 365.54Z" fill="#ff9090"/>
<path d="M508.93 247.52H513.73L511.32 249.82Z" fill="#ff9090"/>
<path d="M508.93 168.80H513.73L511.32 171.10Z" fill="#7ccbff"/>
<path d="M508.93 326.24H513.73L511.32 328.54Z" fill="#e6f870"/>
<path d="M524.68 313.91H529.48L527.08 316.21Z" fill="#d0b0ff"/>
<path d="M524.68 272.45H529.48L527.08 274.75Z" fill="#ff9090"/>
<path d="M524.68 195.30H529.48L527.08 197.60Z" fill="#7ccbff"/>
<path d="M540.43 238.86H545.23L542.83 241.16Z" fill="#7ccbff"/>
<path d="M540.43 326.24H545.23L542.83 328.54Z" fill="#e6f870"/>
<path d="M556.18 317.32H560.98L558.58 319.62Z" fill="#d0b0ff"/>
<path d="M556.18 259.59H560.98L558.58 261.89Z" fill="#ff9090"/>
<path d="M556.18 198.71H560.98L558.58 201.01Z" fill="#7ccbff"/>
<path d="M556.18 326.24H560.98L558.58 328.54Z" fill="#e6f870"/>
<path d="M571.93 307.87H576.73L574.33 310.17Z" fill="#d0b0ff"/>
<path d="M571.93 248.04H576.73L574.33 250.34Z" fill="#7ccbff"/>
<path d="M587.68 317.32H592.48L590.08 319.62Z" fill="#d0b0ff"/>
<path d="M587.68 262.74H592.48L590.08 265.04Z" fill="#7ccbff"/>
<path d="M587.68 326.24H592.48L590.08 328.54Z" fill="#e6f870"/>
<path d="M587.68 352.22H592.48L590.08 354.52Z" fill="#ff9090"/>
<path d="M603.43 321.52H608.23L605.83 323.82Z" fill="#d0b0ff"/>
<path d="M603.43 289.77H608.23L605.83 292.07Z" fill="#7ccbff"/>
<path d="M603.43 326.24H608.23L605.83 328.54Z" fill="#e6f870"/>
<path d="M603.43 330.44H608.23L605.83 332.74Z" fill="#ff9090"/>
<path d="M619.18 309.45H623.98L621.58 311.75Z" fill="#d0b0ff"/>
<path d="M619.18 253.56H623.98L621.58 255.86Z" fill="#7ccbff"/>
<path d="M619.18 326.24H623.98L621.58 328.54Z" fill="#e6f870"/>
<path d="M619.18 338.84H623.98L621.58 341.14Z" fill="#ff9090"/>
<path d="M634.93 317.58H639.73L637.33 319.88Z" fill="#e6f870"/>
<path d="M634.93 265.63H639.73L637.33 267.93Z" fill="#7ccbff"/>
<path d="M634.93 326.24H639.73L637.33 328.54Z" fill="#d0b0ff"/>
<path d="M634.93 329.39H639.73L637.33 331.69Z" fill="#ff9090"/>
<path d="M650.68 317.84H655.48L653.08 320.14Z" fill="#d0b0ff"/>
<path d="M650.68 268.77H655.48L653.08 271.07Z" fill="#7ccbff"/>
<path d="M666.43 321.52H671.23L668.83 323.82Z" fill="#d0b0ff"/>
<path d="M666.43 282.42H671.23L668.83 284.72Z" fill="#ff9090"/>
<path d="M666.43 237.55H671.23L668.83 239.85Z" fill="#7ccbff"/>
<path d="M666.43 326.24H671.23L668.83 328.54Z" fill="#e6f870"/>
<path d="M682.18 323.62H686.98L684.58 325.92Z" fill="#e6f870"/>
<path d="M682.18 308.40H686.98L684.58 310.70Z" fill="#ff9090"/>
<path d="M682.18 264.84H686.98L684.58 267.14Z" fill="#7ccbff"/>
<path d="M697.93 320.47H702.73L700.33 322.77Z" fill="#d0b0ff"/>
<path d="M697.93 305.25H702.73L700.33 307.55Z" fill="#ff9090"/>
<path d="M697.93 261.43H702.73L700.33 263.73Z" fill="#7ccbff"/>
<path d="M697.93 326.24H702.73L700.33 328.54Z" fill="#e6f870"/>
<path d="M713.68 317.32H718.48L716.08 319.62Z" fill="#e6f870"/>
<path d="M713.68 284.26H718.48L716.08 286.56Z" fill="#ff9090"/>
<path d="M713.68 241.75H718.48L716.08 244.05Z" fill="#7ccbff"/>
<path d="M729.43 315.48H734.23L731.83 317.78Z" fill="#d0b0ff"/>
<path d="M729.43 294.23H734.23L731.83 296.53Z" fill="#ff9090"/>
<path d="M729.43 212.62H734.23L731.83 214.92Z" fill="#7ccbff"/>
<path d="M729.43 326.24H734.23L731.83 328.54Z" fill="#e6f870"/>
<path d="M745.18 318.37H749.98L747.58 320.67Z" fill="#d0b0ff"/>
<path d="M745.18 290.29H749.98L747.58 292.59Z" fill="#ff9090"/>
<path d="M745.18 259.33H749.98L747.58 261.63Z" fill="#7ccbff"/>
<path d="M760.93 315.48H765.73L763.33 317.78Z" fill="#d0b0ff"/>
<path d="M760.93 297.38H765.73L763.33 299.68Z" fill="#e6f870"/>
<path d="M760.93 225.48H765.73L763.33 227.78Z" fill="#7ccbff"/>
<path d="M760.93 326.24H765.73L763.33 328.54Z" fill="#ff9090"/>
<path d="M776.68 317.58H781.48L779.08 319.88Z" fill="#d0b0ff"/>
<path d="M776.68 257.23H781.48L779.08 259.53Z" fill="#ff9090"/>
<path d="M776.68 195.30H781.48L779.08 197.60Z" fill="#7ccbff"/>
<path d="M776.68 326.24H781.48L779.08 328.54Z" fill="#e6f870"/>
<path d="M792.43 313.38H797.23L794.83 315.68Z" fill="#ff9090"/>
<path d="M792.43 286.88H797.23L794.83 289.18Z" fill="#7ccbff"/>
<path d="M792.43 328.08H797.23L794.83 330.38Z" fill="#e6f870"/>
<path d="M808.18 313.38H812.98L810.58 315.68Z" fill="#d0b0ff"/>
<path d="M808.18 294.49H812.98L810.58 296.79Z" fill="#e6f870"/>
<path d="M808.18 266.15H812.98L810.58 268.45Z" fill="#ff9090"/>
<path d="M808.18 244.63H812.98L810.58 246.93Z" fill="#7ccbff"/>
<path d="M823.93 305.51H828.73L826.33 307.81Z" fill="#d0b0ff"/>
<path d="M823.93 224.69H828.73L826.33 226.99Z" fill="#7ccbff"/>
<path d="M823.93 326.24H828.73L826.33 328.54Z" fill="#e6f870"/>
<path d="M823.93 343.03H828.73L826.33 345.33Z" fill="#ff9090"/>
<path d="M839.68 319.42H844.48L842.08 321.72Z" fill="#d0b0ff"/>
<path d="M839.68 262.74H844.48L842.08 265.04Z" fill="#7ccbff"/>
<path d="M839.68 326.24H844.48L842.08 328.54Z" fill="#e6f870"/>
<path d="M839.68 329.39H844.48L842.08 331.69Z" fill="#ff9090"/>
<path d="M855.43 315.48H860.23L857.83 317.78Z" fill="#d0b0ff"/>
<path d="M855.43 275.33H860.23L857.83 277.63Z" fill="#e6f870"/>
<path d="M855.43 242.53H860.23L857.83 244.83Z" fill="#7ccbff"/>
<path d="M855.43 326.24H860.23L857.83 328.54Z" fill="#ff9090"/>
<line x1="47" x2="866" y1="326" y2="326" stroke="#000" stroke-width="2"/>
<polyline points="54.58,318.86 70.33,244.07 86.08,254.83 101.83,262.18 117.58,385.77 133.32,271.89 149.07,383.41 164.82,546.09 180.57,441.40 196.32,340.90 212.07,287.37 227.82,208.65 243.57,285.01 259.32,228.85 275.07,246.70 290.82,272.41 306.57,351.13 322.32,250.11 338.07,328.30 353.82,201.30 369.57,241.71 385.32,280.02 401.07,310.72 416.82,315.18 432.57,230.43 448.32,313.87 464.07,242.23 479.82,240.66 495.57,355.33 511.32,180.57 527.08,195.00 542.83,267.16 558.58,241.97 574.33,247.74 590.08,291.04 605.83,323.05 621.58,272.67 637.33,275.56 653.08,268.47 668.83,272.94 684.58,265.33 700.33,269.52 716.08,241.97 731.83,232.53 747.58,259.55 763.33,232.53 779.08,248.27 794.83,297.34 810.58,244.33 826.33,272.94" fill="none" stroke="#0000ff" stroke-width="3.3" stroke-dasharray="5 7.5" stroke-linecap="round" stroke-linejoin="round"/>
<text x="35" y="172.6" font-size="11.7" font-weight="bold" fill="#000" text-anchor="end">6</text>
<text x="35" y="198.8" font-size="11.7" font-weight="bold" fill="#000" text-anchor="end">5</text>
<text x="878" y="198.8" font-size="11.7" font-weight="bold" fill="#000">5</text>
<text x="35" y="225.1" font-size="11.7" font-weight="bold" fill="#000" text-anchor="end">4</text>
<text x="878" y="225.1" font-size="11.7" font-weight="bold" fill="#000">4</text>
<text x="35" y="251.3" font-size="11.7" font-weight="bold" fill="#000" text-anchor="end">3</text>
<text x="878" y="251.3" font-size="11.7" font-weight="bold" fill="#000">3</text>
<text x="35" y="277.6" font-size="11.7" font-weight="bold" fill="#000" text-anchor="end">2</text>
<text x="878" y="277.6" font-size="11.7" font-weight="bold" fill="#000">2</text>
<text x="35" y="303.8" font-size="11.7" font-weight="bold" fill="#000" text-anchor="end">1</text>
<text x="878" y="303.8" font-size="11.7" font-weight="bold" fill="#000">1</text>
<text x="35" y="330.0" font-size="11.7" font-weight="bold" fill="#000" text-anchor="end">0</text>
<text x="878" y="330.0" font-size="11.7" font-weight="bold" fill="#000">0</text>
<text x="35" y="356.3" font-size="11.7" font-weight="bold" fill="#ff0000" text-anchor="end">-1</text>
<text x="878" y="356.3" font-size="11.7" font-weight="bold" fill="#ff0000">-1</text>
<text x="35" y="382.5" font-size="11.7" font-weight="bold" fill="#ff0000" text-anchor="end">-2</text>
<text x="878" y="382.5" font-size="11.7" font-weight="bold" fill="#ff0000">-2</text>
<text x="35" y="408.8" font-size="11.7" font-weight="bold" fill="#ff0000" text-anchor="end">-3</text>
<text x="878" y="408.8" font-size="11.7" font-weight="bold" fill="#ff0000">-3</text>
<text x="35" y="435.0" font-size="11.7" font-weight="bold" fill="#ff0000" text-anchor="end">-4</text>
<text x="878" y="435.0" font-size="11.7" font-weight="bold" fill="#ff0000">-4</text>
<text x="35" y="461.2" font-size="11.7" font-weight="bold" fill="#ff0000" text-anchor="end">-5</text>
<text x="878" y="461.2" font-size="11.7" font-weight="bold" fill="#ff0000">-5</text>
<text x="35" y="487.5" font-size="11.7" font-weight="bold" fill="#ff0000" text-anchor="end">-6</text>
<text x="878" y="487.5" font-size="11.7" font-weight="bold" fill="#ff0000">-6</text>
<text x="35" y="513.7" font-size="11.7" font-weight="bold" fill="#ff0000" text-anchor="end">-7</text>
<text x="878" y="513.7" font-size="11.7" font-weight="bold" fill="#ff0000">-7</text>
<text x="35" y="540.0" font-size="11.7" font-weight="bold" fill="#ff0000" text-anchor="end">-8</text>
<text x="878" y="540.0" font-size="11.7" font-weight="bold" fill="#ff0000">-8</text>
<text x="35" y="566.2" font-size="11.7" font-weight="bold" fill="#ff0000" text-anchor="end">-9</text>
<text x="878" y="566.2" font-size="11.7" font-weight="bold" fill="#ff0000">-9</text>
<text x="35" y="592.4" font-size="11.7" font-weight="bold" fill="#ff0000" text-anchor="end">-10</text>
<text x="878" y="592.4" font-size="11.7" font-weight="bold" fill="#ff0000">-10</text>
<text transform="translate(59.7 642.2) rotate(-90)" font-size="11.5" fill="#000" textLength="45.4" lengthAdjust="spacingAndGlyphs">2007:Q1</text>
<text transform="translate(91.2 642.2) rotate(-90)" font-size="11.5" fill="#000" textLength="45.4" lengthAdjust="spacingAndGlyphs">2007:Q3</text>
<text transform="translate(122.7 642.2) rotate(-90)" font-size="11.5" fill="#000" textLength="45.4" lengthAdjust="spacingAndGlyphs">2008:Q1</text>
<text transform="translate(154.2 642.2) rotate(-90)" font-size="11.5" fill="#000" textLength="45.4" lengthAdjust="spacingAndGlyphs">2008:Q3</text>
<text transform="translate(185.7 642.2) rotate(-90)" font-size="11.5" fill="#000" textLength="45.4" lengthAdjust="spacingAndGlyphs">2009:Q1</text>
<text transform="translate(217.2 642.2) rotate(-90)" font-size="11.5" fill="#000" textLength="45.4" lengthAdjust="spacingAndGlyphs">2009:Q3</text>
<text transform="translate(248.7 642.2) rotate(-90)" font-size="11.5" fill="#000" textLength="45.4" lengthAdjust="spacingAndGlyphs">2010:Q1</text>
<text transform="translate(280.2 642.2) rotate(-90)" font-size="11.5" fill="#000" textLength="45.4" lengthAdjust="spacingAndGlyphs">2010:Q3</text>
<text transform="translate(311.7 642.2) rotate(-90)" font-size="11.5" fill="#000" textLength="45.4" lengthAdjust="spacingAndGlyphs">2011:Q1</text>
<text transform="translate(343.2 642.2) rotate(-90)" font-size="11.5" fill="#000" textLength="45.4" lengthAdjust="spacingAndGlyphs">2011:Q3</text>
<text transform="translate(374.7 642.2) rotate(-90)" font-size="11.5" fill="#000" textLength="45.4" lengthAdjust="spacingAndGlyphs">2012:Q1</text>
<text transform="translate(406.2 642.2) rotate(-90)" font-size="11.5" fill="#000" textLength="45.4" lengthAdjust="spacingAndGlyphs">2012:Q3</text>
<text transform="translate(437.7 642.2) rotate(-90)" font-size="11.5" fill="#000" textLength="45.4" lengthAdjust="spacingAndGlyphs">2013:Q1</text>
<text transform="translate(469.2 642.2) rotate(-90)" font-size="11.5" fill="#000" textLength="45.4" lengthAdjust="spacingAndGlyphs">2013:Q3</text>
<text transform="translate(500.7 642.2) rotate(-90)" font-size="11.5" fill="#000" textLength="45.4" lengthAdjust="spacingAndGlyphs">2014:Q1</text>
<text transform="translate(532.2 642.2) rotate(-90)" font-size="11.5" fill="#000" textLength="45.4" lengthAdjust="spacingAndGlyphs">2014:Q3</text>
<text transform="translate(563.7 642.2) rotate(-90)" font-size="11.5" fill="#000" textLength="45.4" lengthAdjust="spacingAndGlyphs">2015:Q1</text>
<text transform="translate(595.2 642.2) rotate(-90)" font-size="11.5" fill="#000" textLength="45.4" lengthAdjust="spacingAndGlyphs">2015:Q3</text>
<text transform="translate(626.7 642.2) rotate(-90)" font-size="11.5" fill="#000" textLength="45.4" lengthAdjust="spacingAndGlyphs">2016:Q1</text>
<text transform="translate(658.2 642.2) rotate(-90)" font-size="11.5" fill="#000" textLength="45.4" lengthAdjust="spacingAndGlyphs">2016:Q3</text>
<text transform="translate(689.7 642.2) rotate(-90)" font-size="11.5" fill="#000" textLength="45.4" lengthAdjust="spacingAndGlyphs">2017:Q1</text>
<text transform="translate(721.2 642.2) rotate(-90)" font-size="11.5" fill="#000" textLength="45.4" lengthAdjust="spacingAndGlyphs">2017:Q3</text>
<text transform="translate(752.7 642.2) rotate(-90)" font-size="11.5" fill="#000" textLength="45.4" lengthAdjust="spacingAndGlyphs">2018:Q1</text>
<text transform="translate(784.2 642.2) rotate(-90)" font-size="11.5" fill="#000" textLength="45.4" lengthAdjust="spacingAndGlyphs">2018:Q3</text>
<text transform="translate(815.7 642.2) rotate(-90)" font-size="11.5" fill="#000" textLength="45.4" lengthAdjust="spacingAndGlyphs">2019:Q1</text>
<text transform="translate(847.2 642.2) rotate(-90)" font-size="11.5" fill="#000" textLength="45.4" lengthAdjust="spacingAndGlyphs">2019:Q3</text>
<text x="176.4" y="32.7" font-size="20.3" font-weight="bold" fill="#000" textLength="138.4" lengthAdjust="spacingAndGlyphs">Contributions</text>
<text x="319.3" y="32.7" font-size="20.3" font-weight="bold" fill="#000" textLength="20.9" lengthAdjust="spacingAndGlyphs">to</text>
<text x="345.0" y="32.7" font-size="20.3" font-weight="bold" fill="#000" textLength="77.4" lengthAdjust="spacingAndGlyphs">Percent</text>
<text x="426.5" y="32.7" font-size="20.3" font-weight="bold" fill="#000" textLength="74.0" lengthAdjust="spacingAndGlyphs">Change</text>
<text x="506.3" y="32.7" font-size="20.3" font-weight="bold" fill="#000" textLength="16.6" lengthAdjust="spacingAndGlyphs">in</text>
<text x="529.4" y="32.7" font-size="20.3" font-weight="bold" fill="#000" textLength="40.4" lengthAdjust="spacingAndGlyphs">Real</text>
<text x="577.3" y="32.7" font-size="20.3" font-weight="bold" fill="#000" textLength="43.0" lengthAdjust="spacingAndGlyphs">GDP</text>
<text x="626.8" y="32.7" font-size="20.3" font-weight="bold" fill="#000" textLength="51.9" lengthAdjust="spacingAndGlyphs">Since</text>
<text x="684.5" y="32.7" font-size="20.3" font-weight="bold" fill="#000" textLength="47.7" lengthAdjust="spacingAndGlyphs">2007</text>
<text x="831.2" y="17.9" font-size="13" font-weight="bold" fill="#1d4a8a" textLength="69.7" lengthAdjust="spacingAndGlyphs">dshort.com</text>
<text x="830.3" y="32.9" font-size="13" font-weight="bold" fill="#1d4a8a" textLength="38.3" lengthAdjust="spacingAndGlyphs">March</text>
<text x="872.9" y="32.9" font-size="13" font-weight="bold" fill="#1d4a8a" textLength="28.0" lengthAdjust="spacingAndGlyphs">2020</text>
<text x="719.0" y="105.6" font-size="15.8" font-weight="bold" fill="#000" textLength="36.6" lengthAdjust="spacingAndGlyphs">Data</text>
<text x="759.4" y="105.6" font-size="15.8" font-weight="bold" fill="#000" textLength="65.3" lengthAdjust="spacingAndGlyphs">Through</text>
<text x="828.9" y="105.6" font-size="15.8" font-weight="bold" fill="#000" textLength="40.7" lengthAdjust="spacingAndGlyphs">2019</text>
<text x="727.6" y="127.6" font-size="15.8" font-weight="bold" fill="#000" textLength="23.3" lengthAdjust="spacingAndGlyphs">Q4</text>
<text x="754.7" y="127.6" font-size="15.8" font-weight="bold" fill="#000" textLength="41.0" lengthAdjust="spacingAndGlyphs">Third</text>
<text x="800.0" y="127.6" font-size="15.8" font-weight="bold" fill="#000" textLength="69.6" lengthAdjust="spacingAndGlyphs">Estimate</text>
<text x="145.9" y="188" font-size="13.9" font-weight="bold" fill="#000" textLength="24.5" lengthAdjust="spacingAndGlyphs">The</text>
<text x="174.0" y="188" font-size="13.9" font-weight="bold" fill="#000" textLength="37.8" lengthAdjust="spacingAndGlyphs">Great</text>
<text x="214.8" y="188" font-size="13.9" font-weight="bold" fill="#000" textLength="66.2" lengthAdjust="spacingAndGlyphs">Recession</text>
<rect x="53.0" y="57.9" width="34.9" height="9.8" fill="#3a7cc3"/>
<path d="M53.0 57.9H87.9L83.9 62.5H57.0Z" fill="#6ab8fa"/>
<path d="M53.0 67.7H87.9L86.3 66.1H54.6Z" fill="#2a5c92"/>
<path d="M53.0 57.9L57.0 62.5L54.6 66.1L53.0 67.7Z" fill="#3270b2"/>
<path d="M87.9 57.9L83.9 62.5L86.3 66.1L87.9 67.7Z" fill="#3270b2"/>
<rect x="53.0" y="57.9" width="34.9" height="9.8" fill="none" stroke="#2a5c92" stroke-width="0.5" stroke-opacity="0.7"/>
<rect x="53.0" y="79.9" width="34.9" height="9.8" fill="#c63c3c"/>
<path d="M53.0 79.9H87.9L83.9 84.5H57.0Z" fill="#f47272"/>
<path d="M53.0 89.7H87.9L86.3 88.1H54.6Z" fill="#8f2a2a"/>
<path d="M53.0 79.9L57.0 84.5L54.6 88.1L53.0 89.7Z" fill="#b03434"/>
<path d="M87.9 79.9L83.9 84.5L86.3 88.1L87.9 89.7Z" fill="#b03434"/>
<rect x="53.0" y="79.9" width="34.9" height="9.8" fill="none" stroke="#8f2a2a" stroke-width="0.5" stroke-opacity="0.7"/>
<rect x="53.0" y="102.9" width="34.9" height="9.8" fill="#93b63c"/>
<path d="M53.0 102.9H87.9L83.9 107.5H57.0Z" fill="#d0f070"/>
<path d="M53.0 112.8H87.9L86.3 111.2H54.6Z" fill="#6c882b"/>
<path d="M53.0 102.9L57.0 107.5L54.6 111.2L53.0 112.8Z" fill="#84a535"/>
<path d="M87.9 102.9L83.9 107.5L86.3 111.2L87.9 112.8Z" fill="#84a535"/>
<rect x="53.0" y="102.9" width="34.9" height="9.8" fill="none" stroke="#6c882b" stroke-width="0.5" stroke-opacity="0.7"/>
<rect x="53.0" y="125.1" width="34.9" height="9.8" fill="#7350a2"/>
<path d="M53.0 125.1H87.9L83.9 129.7H57.0Z" fill="#ac8ae4"/>
<path d="M53.0 134.9H87.9L86.3 133.3H54.6Z" fill="#533a78"/>
<path d="M53.0 125.1L57.0 129.7L54.6 133.3L53.0 134.9Z" fill="#664690"/>
<path d="M87.9 125.1L83.9 129.7L86.3 133.3L87.9 134.9Z" fill="#664690"/>
<rect x="53.0" y="125.1" width="34.9" height="9.8" fill="none" stroke="#533a78" stroke-width="0.5" stroke-opacity="0.7"/>
<line x1="52.6" x2="85" y1="152.3" y2="152.3" stroke="#0000ff" stroke-width="3.2" stroke-dasharray="6.6 2"/>
<text x="91.1" y="67.1" font-size="14.1" fill="#000" textLength="56.0" lengthAdjust="spacingAndGlyphs">Personal</text>
<text x="151.2" y="67.1" font-size="14.1" fill="#000" textLength="84.2" lengthAdjust="spacingAndGlyphs">consumption</text>
<text x="240.3" y="67.1" font-size="14.1" fill="#000" textLength="85.0" lengthAdjust="spacingAndGlyphs">expenditures</text>
<text x="91.1" y="89.7" font-size="14.1" fill="#000" textLength="36.9" lengthAdjust="spacingAndGlyphs">Gross</text>
<text x="131.3" y="89.7" font-size="14.1" fill="#000" textLength="45.1" lengthAdjust="spacingAndGlyphs">private</text>
<text x="181.0" y="89.7" font-size="14.1" fill="#000" textLength="60.5" lengthAdjust="spacingAndGlyphs">domestic</text>
<text x="244.8" y="89.7" font-size="14.1" fill="#000" textLength="72.5" lengthAdjust="spacingAndGlyphs">investment</text>
<text x="91.1" y="112.0" font-size="14.1" fill="#000" textLength="23.6" lengthAdjust="spacingAndGlyphs">Net</text>
<text x="118.8" y="112.0" font-size="14.1" fill="#000" textLength="49.1" lengthAdjust="spacingAndGlyphs">exports</text>
<text x="170.6" y="112.0" font-size="14.1" fill="#000" textLength="13.2" lengthAdjust="spacingAndGlyphs">of</text>
<text x="187.7" y="112.0" font-size="14.1" fill="#000" textLength="39.7" lengthAdjust="spacingAndGlyphs">goods</text>
<text x="230.2" y="112.0" font-size="14.1" fill="#000" textLength="24.6" lengthAdjust="spacingAndGlyphs">and</text>
<text x="258.9" y="112.0" font-size="14.1" fill="#000" textLength="51.8" lengthAdjust="spacingAndGlyphs">services</text>
<text x="91.1" y="134.7" font-size="14.1" fill="#000" textLength="82.1" lengthAdjust="spacingAndGlyphs">Government</text>
<text x="177.3" y="134.7" font-size="14.1" fill="#000" textLength="84.2" lengthAdjust="spacingAndGlyphs">consumption</text>
<text x="265.9" y="134.7" font-size="14.1" fill="#000" textLength="85.8" lengthAdjust="spacingAndGlyphs">expenditures</text>
<text x="355.0" y="134.7" font-size="14.1" fill="#000" textLength="23.8" lengthAdjust="spacingAndGlyphs">and</text>
<text x="382.4" y="134.7" font-size="14.1" fill="#000" textLength="35.2" lengthAdjust="spacingAndGlyphs">gross</text>
<text x="421.0" y="134.7" font-size="14.1" fill="#000" textLength="73.0" lengthAdjust="spacingAndGlyphs">investment</text>
<text x="91.2" y="156.1" font-size="13" font-weight="bold" fill="#0000ff" textLength="28.2" lengthAdjust="spacingAndGlyphs">Real</text>
<text x="124.1" y="156.1" font-size="13" font-weight="bold" fill="#0000ff" textLength="29.0" lengthAdjust="spacingAndGlyphs">GDP</text>
<text x="156.2" y="156.1" font-size="13" font-weight="bold" fill="#0000ff" textLength="28.4" lengthAdjust="spacingAndGlyphs">Sum</text>
<text x="189.0" y="156.1" font-size="13" font-weight="bold" fill="#0000ff" textLength="13.3" lengthAdjust="spacingAndGlyphs">of</text>
<text x="205.7" y="156.1" font-size="13" font-weight="bold" fill="#0000ff" textLength="41.6" lengthAdjust="spacingAndGlyphs">above</text>
<g filter="url(#sh2)"><path d="M809.8 166H889.9V187.5H876.1L855.5 233.2L856.5 187.5H809.8Z" fill="url(#co)" stroke="#4bacc6" stroke-width="1"/></g>
<text x="816.9" y="180.6" font-size="13" font-weight="bold" fill="#000" textLength="26.4" lengthAdjust="spacingAndGlyphs">GDP</text>
<text x="847.0" y="180.6" font-size="13" font-weight="bold" fill="#000" textLength="7.5" lengthAdjust="spacingAndGlyphs">=</text>
<text x="856.7" y="180.6" font-size="13" font-weight="bold" fill="#000" textLength="29.7" lengthAdjust="spacingAndGlyphs">2.1%</text>
<g>
<circle cx="21.4" cy="21.3" r="9.1" fill="none" stroke="#b8963f" stroke-width="1.4"/>
<path d="M21.40 10.90L22.74 19.96L31.80 21.30L22.74 22.64L21.40 31.70L20.06 22.64L11.00 21.30L20.06 19.96Z" fill="#7d1519"/>
<path d="M25.85 16.85L23.70 21.30L25.85 25.75L21.40 23.60L16.95 25.75L19.10 21.30L16.95 16.85L21.40 19.00Z" fill="#7d1519"/>
<circle cx="21.4" cy="21.3" r="3.3" fill="#7d1519"/>
<text x="33" y="20.9" font-size="14.2" font-weight="bold" fill="#7d1519" stroke="#7d1519" stroke-width="0.35" textLength="61" lengthAdjust="spacingAndGlyphs">ADVISOR</text>
<text x="33.2" y="31.6" font-size="13.2" fill="#b08c3c" textLength="93.8" lengthAdjust="spacingAndGlyphs">PERSPECTIVES</text>
</g>
</svg></body></html>
